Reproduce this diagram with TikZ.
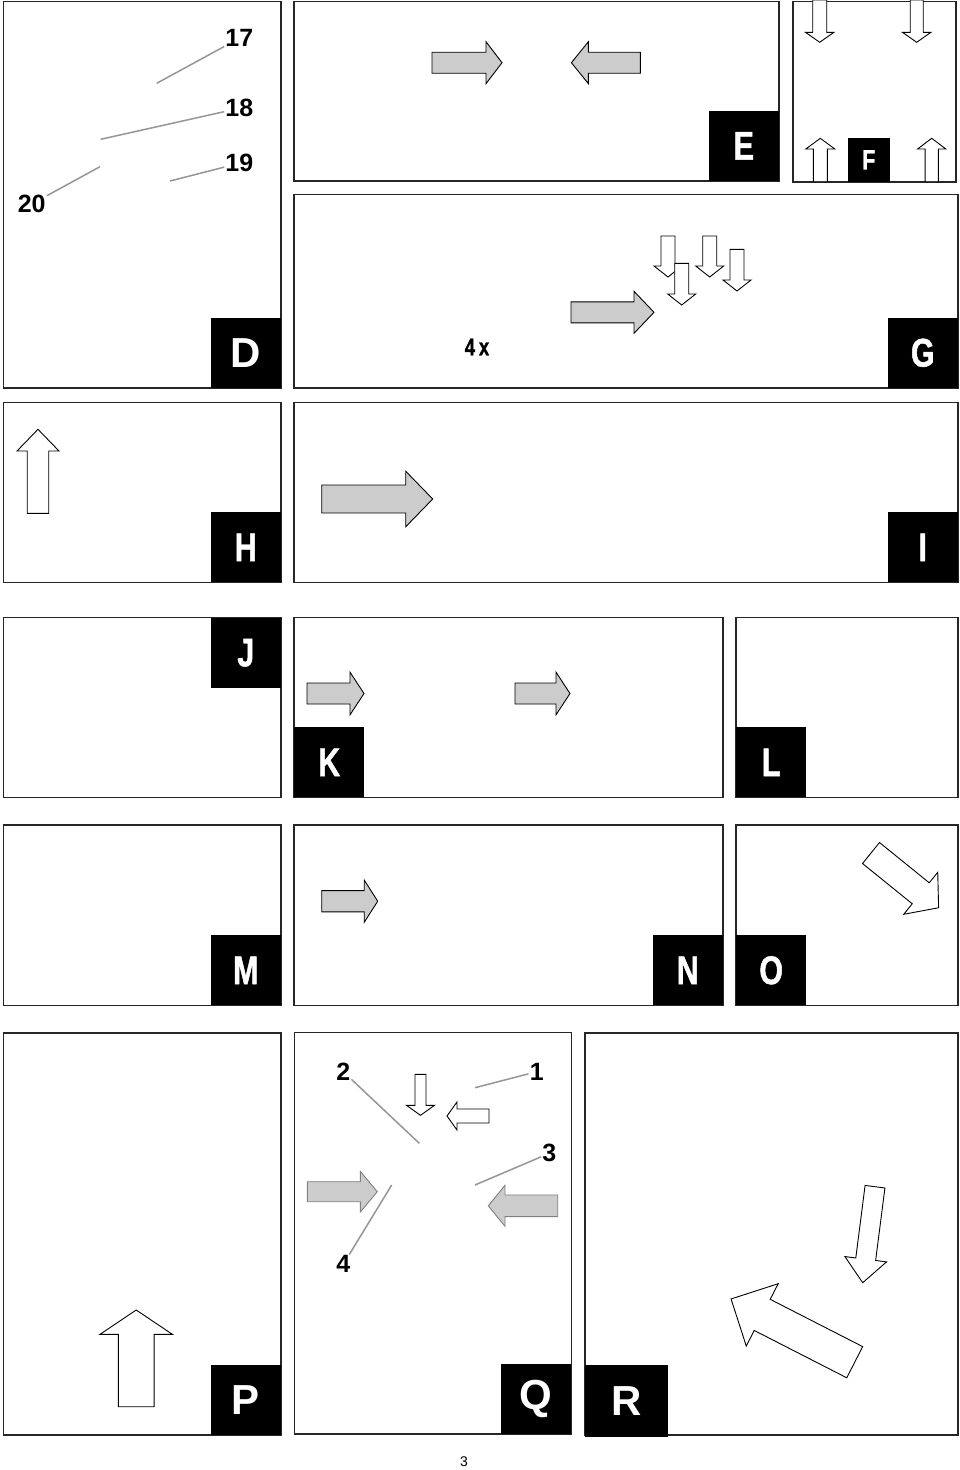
\documentclass[tikz,border=0pt]{standalone}
\usepackage{fontspec}
\setmainfont{Liberation Sans}
\newfontfamily\narrowfont[FakeStretch=0.76,FakeBold=1.2]{Liberation Sans}
\definecolor{arrowgray}{RGB}{204,204,204}
\definecolor{leadgray}{RGB}{150,150,150}
% block arrow: [style]{tail}{angle}{length}{shaft}{head width}{head length}
\newcommand{\fatarrow}[7][]{%
  \begin{scope}[shift={#2},rotate=#3]
    \draw[#1] (0,-#5/2) -- (#4-#7,-#5/2) -- (#4-#7,-#6/2) -- (#4,0)
      -- (#4-#7,#6/2) -- (#4-#7,#5/2) -- (0,#5/2) -- cycle;
  \end{scope}}
\tikzset{
  panel/.style={draw=black!85, line width=1.3pt},
  tag/.style={fill=black, text=white, inner sep=0pt, minimum width=70pt, minimum height=70pt,
    font=\narrowfont\bfseries\fontsize{40}{40}\selectfont},
  widetag/.style={tag, font=\bfseries\fontsize{42}{42}\selectfont},
  callout/.style={inner sep=1pt, font=\bfseries\fontsize{25}{25}\selectfont},
  leader/.style={draw=leadgray, line width=1.5pt},
  greyarrow/.style={fill=arrowgray, draw=black, line width=0.9pt},
  whitearrow/.style={fill=white, draw=black, line width=0.9pt},
  palearrow/.style={fill=arrowgray, draw=gray, line width=0.9pt}
}
\begin{document}
\begin{tikzpicture}[x=1pt,y=-1pt]
  \useasboundingbox[fill=white] (0,0) rectangle (960,1470);
  % panels
  \draw[panel] (3.5,1.5) rectangle (281,388);
  \draw[panel] (294,1.5) rectangle (779,181);
  \draw[panel] (793,1.5) rectangle (956,182);
  \draw[panel] (294,194.5) rectangle (958,388);
  \draw[panel] (3.5,402.5) rectangle (281,582.5);
  \draw[panel] (294,402.5) rectangle (958,582.5);
  \draw[panel] (3.5,617.5) rectangle (281,797.5);
  \draw[panel] (294,617.5) rectangle (723,797.5);
  \draw[panel] (736,617.5) rectangle (958,797.5);
  \draw[panel] (3.5,825) rectangle (281,1005.5);
  \draw[panel] (294,825) rectangle (723,1005.5);
  \draw[panel] (736,825) rectangle (958,1005.5);
  \draw[panel] (3.5,1033) rectangle (281,1435);
  \draw[panel] (294.5,1032.5) rectangle (571.5,1434);
  \draw[panel] (585,1033) rectangle (958,1435);

  % D
  \node[callout] (n17) at (239.3,38.3) {17};
  \node[callout] (n18) at (239.3,108.3) {18};
  \node[callout] (n19) at (239.3,163.3) {19};
  \node[callout] (n20) at (31.7,204) {20};
  \coordinate (t17) at (156.7,83.3);
  \coordinate (t18) at (100.7,139.3);
  \coordinate (t19) at (170,181);
  \coordinate (t20) at (100,166.7);
  \draw[leader] (n17) -- (t17);
  \draw[leader] (n18) -- (t18);
  \draw[leader] (n19) -- (t19);
  \draw[leader] (n20) -- (t20);
  \node[widetag, anchor=south east] (tagD) at (281,388) {D};

  % E, F, G
  \fatarrow[greyarrow]{(432,62.7)}{0}{70}{21}{42}{16}
  \fatarrow[greyarrow]{(640.4,62.7)}{180}{69}{21}{42}{17}
  \node[tag, anchor=south east] (tagE) at (779,181) {E};
  \fatarrow[whitearrow]{(819.7,0)}{-90}{42.3}{14}{28.5}{10}
  \fatarrow[whitearrow]{(916.7,0)}{-90}{42.3}{13}{28.5}{10}
  \fatarrow[whitearrow]{(820.3,181.7)}{90}{43.4}{14}{29}{10.7}
  \fatarrow[whitearrow]{(931.7,181.7)}{90}{43.4}{13.3}{28.3}{10.7}
  \node[tag, anchor=south east, minimum width=42pt, minimum height=44pt,
    font=\narrowfont\bfseries\fontsize{28}{28}\selectfont] (tagF) at (890,182) {F};
  \fatarrow[greyarrow]{(571,312.3)}{0}{83}{21}{42}{20}
  \fatarrow[whitearrow]{(668,236)}{-90}{41}{14}{28}{11}
  \fatarrow[whitearrow]{(709.7,236)}{-90}{41}{14}{28}{11}
  \fatarrow[whitearrow]{(737,249.3)}{-90}{41.7}{14}{28}{11}
  \fatarrow[whitearrow]{(681.7,263.3)}{-90}{41.7}{14}{28}{11}
  \node[inner sep=0pt, font=\narrowfont\bfseries\fontsize{24}{24}\selectfont] (times) at (477,347) {4\,x};
  \node[tag, anchor=south east] (tagG) at (958,388) {G};

  % H, I
  \fatarrow[whitearrow]{(38,513.3)}{90}{84}{21.5}{42}{21.7}
  \node[tag, anchor=south east] (tagH) at (281,582.5) {H};
  \fatarrow[greyarrow]{(321.7,499)}{0}{111}{28}{55.6}{27}
  \node[tag, anchor=south east] (tagI) at (958,582.5) {I};

  % J, K, L
  \node[tag, anchor=north east] (tagJ) at (281,617.5) {J};
  \fatarrow[greyarrow]{(307,693.5)}{0}{57}{21}{42.7}{14}
  \fatarrow[greyarrow]{(515,693.5)}{0}{55}{21}{42.7}{14}
  \node[tag, anchor=south west] (tagK) at (294,797.5) {K};
  \node[tag, anchor=south west] (tagL) at (736,797.5) {L};

  % M, N, O
  \node[tag, anchor=south east] (tagM) at (281,1005.5) {M};
  \fatarrow[greyarrow]{(321.7,901.2)}{0}{56}{21.3}{42.3}{13.5}
  \node[tag, anchor=south east] (tagN) at (723,1005.5) {N};
  \fatarrow[whitearrow]{(871,853)}{-39}{87}{27}{54}{23}
  \node[tag, anchor=south west] (tagO) at (736,1005.5) {O};

  % P
  \fatarrow[whitearrow]{(136.2,1406.7)}{90}{96.7}{35.7}{72.3}{24.3}
  \node[widetag, anchor=south east] (tagP) at (281,1435) {P};

  % Q
  \fatarrow[whitearrow]{(420.5,1074.3)}{-90}{41}{11}{28}{10}
  \fatarrow[whitearrow]{(489,1116)}{180}{42}{14}{28}{10}
  \fatarrow[palearrow]{(307.3,1191.7)}{0}{70}{20}{40.6}{17}
  \fatarrow[palearrow]{(557.7,1205.8)}{180}{69.4}{21.7}{41}{16.7}
  \node[callout] (n1) at (536.7,1071.7) {1};
  \node[callout] (n2) at (343.3,1071.7) {2};
  \node[callout] (n3) at (549.3,1153.3) {3};
  \node[callout] (n4) at (343.3,1264.3) {4};
  \coordinate (t1) at (475,1087.7);
  \coordinate (t2) at (419.3,1143.3);
  \coordinate (t3) at (475,1185);
  \coordinate (t4) at (391.7,1185);
  \draw[leader] (n1) -- (t1);
  \draw[leader] (n2) -- (t2);
  \draw[leader] (n3) -- (t3);
  \draw[leader] (n4) -- (t4);
  \node[widetag, anchor=south east] (tagQ) at (571.5,1434) {Q};

  % R
  \fatarrow[whitearrow]{(875,1186.7)}{-97.3}{96.8}{20}{42}{23.7}
  \fatarrow[whitearrow]{(854.7,1362.2)}{152.9}{138.9}{35}{70}{35}
  \node[widetag, anchor=south west, minimum width=83pt, minimum height=72pt] (tagR) at (585,1437) {R};

  \node[font=\fontsize{14}{14}\selectfont] (page) at (464,1462) {3};
\end{tikzpicture}
\end{document}
